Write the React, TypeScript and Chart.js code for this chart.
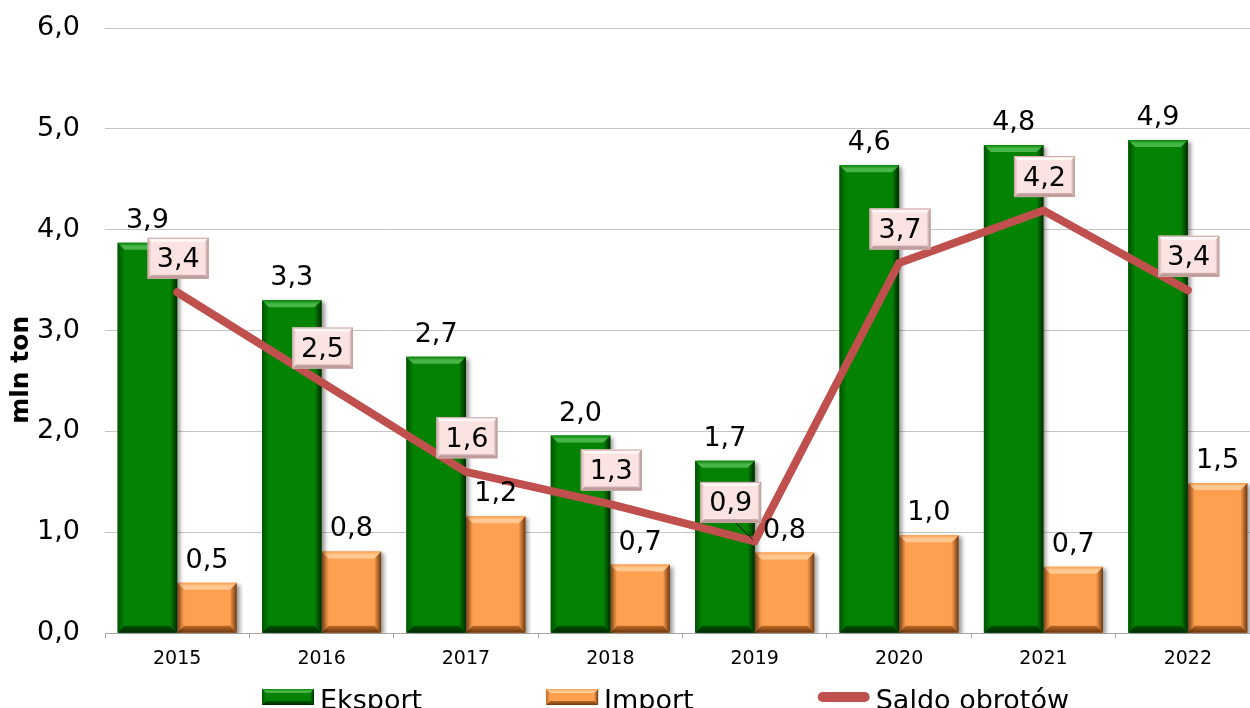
import React, { useEffect, useRef } from "react";
import { Chart, registerables } from "chart.js";

Chart.register(...registerables);

const years = ["2015", "2016", "2017", "2018", "2019", "2020", "2021", "2022"];
const eksport = [3.87, 3.3, 2.74, 1.96, 1.71, 4.64, 4.84, 4.89];
const importT = [0.5, 0.81, 1.16, 0.68, 0.8, 0.97, 0.66, 1.49];
const saldo = [3.38, 2.49, 1.6, 1.28, 0.91, 3.67, 4.19, 3.4];
const seriesNames = ["Eksport", "Import", "Saldo obrotów"];
const axisTitle = "mln ton";
const yMin = 0;
const yMax = 6;
const yStep = 1;

const FONT = '"DejaVu Sans", Verdana, sans-serif';
const fmt = (v: number) => v.toFixed(1).replace(".", ",");

type Pal = { main: string; light: string; dark: string; darker: string };
const GREEN: Pal = { main: "#038203", light: "#48b548", dark: "#005200", darker: "#002800" };
const ORANGE: Pal = { main: "#ff9f50", light: "#ffc991", dark: "#c06a25", darker: "#6a3810" };
const PINK: Pal = { main: "#fae3e1", light: "#fff8f7", dark: "#d2b0ae", darker: "#a88886" };
const LINE_COLOR = "#c0504d";

function poly(ctx: CanvasRenderingContext2D, pts: number[][], fill: any) {
  ctx.beginPath();
  ctx.moveTo(pts[0][0], pts[0][1]);
  for (let i = 1; i < pts.length; i++) ctx.lineTo(pts[i][0], pts[i][1]);
  ctx.closePath();
  ctx.fillStyle = fill;
  ctx.fill();
}

function bevelRect(
  ctx: CanvasRenderingContext2D,
  x0: number,
  y0: number,
  x1: number,
  y1: number,
  pal: Pal,
  bev: number,
  fillMain = true
) {
  const w = x1 - x0;
  const h = y1 - y0;
  const b = Math.max(1, Math.min(bev, w / 3, h / 3));
  if (fillMain) {
    ctx.fillStyle = pal.main;
    ctx.fillRect(x0, y0, w, h);
  }
  let g = ctx.createLinearGradient(x0, 0, x0 + b, 0);
  g.addColorStop(0, pal.dark);
  g.addColorStop(1, pal.main);
  poly(ctx, [[x0, y0], [x0 + b, y0 + b], [x0 + b, y1 - b], [x0, y1]], g);
  g = ctx.createLinearGradient(x1 - b, 0, x1, 0);
  g.addColorStop(0, pal.main);
  g.addColorStop(1, pal.darker);
  poly(ctx, [[x1, y0], [x1 - b, y0 + b], [x1 - b, y1 - b], [x1, y1]], g);
  g = ctx.createLinearGradient(0, y0, 0, y0 + b);
  g.addColorStop(0, pal.main);
  g.addColorStop(0.5, pal.light);
  g.addColorStop(1, pal.light);
  poly(ctx, [[x0, y0], [x1, y0], [x1 - b, y0 + b], [x0 + b, y0 + b]], g);
  g = ctx.createLinearGradient(0, y1 - b, 0, y1);
  g.addColorStop(0, pal.dark);
  g.addColorStop(1, pal.darker);
  poly(ctx, [[x0, y1], [x1, y1], [x1 - b, y1 - b], [x0 + b, y1 - b]], g);
}

// the plot area of the original runs a little past the right edge of the picture
const extendPlugin = {
  id: "extendRight",
  afterLayout(chart: any) {
    const ext = 10;
    const xs = chart.scales.x;
    xs.right += ext;
    xs.width += ext;
    xs.configure();
    chart.chartArea.right += ext;
    chart.chartArea.width += ext;
  },
};

const decorPlugin = {
  id: "decor",
  beforeDatasetDraw(chart: any, args: any) {
    if (args.meta.type === "bar") {
      const ctx = chart.ctx;
      ctx.save();
      ctx.shadowColor = "rgba(0,0,0,0.4)";
      ctx.shadowBlur = 4;
      ctx.shadowOffsetX = 3;
      ctx.shadowOffsetY = 2;
    }
  },
  afterDatasetDraw(chart: any, args: any) {
    if (args.meta.type !== "bar") return;
    const ctx = chart.ctx;
    ctx.restore();
    const pal = args.index === 1 ? GREEN : ORANGE;
    args.meta.data.forEach((el: any) => {
      const p = el.getProps(["x", "y", "base", "width"], true);
      const x0 = p.x - p.width / 2;
      const x1 = p.x + p.width / 2;
      bevelRect(ctx, x0, Math.min(p.y, p.base), x1, Math.max(p.y, p.base), pal, 7, false);
    });
  },
  afterDatasetsDraw(chart: any) {
    const ctx = chart.ctx;
    ctx.save();
    ctx.font = `27px ${FONT}`;
    ctx.fillStyle = "#000";
    ctx.textAlign = "center";
    ctx.textBaseline = "alphabetic";
    [1, 2].forEach((di) => {
      const meta = chart.getDatasetMeta(di);
      const vals = chart.data.datasets[di].data as number[];
      meta.data.forEach((el: any, i: number) => {
        const p = el.getProps(["x", "y"], true);
        ctx.fillText(fmt(vals[i]), p.x, p.y - 15);
      });
    });
    // saldo label boxes
    const lmeta = chart.getDatasetMeta(0);
    const lvals = chart.data.datasets[0].data as number[];
    const shifts: Record<number, number[]> = { 4: [-25, -5] };
    lmeta.data.forEach((el: any, i: number) => {
      const p = el.getProps(["x", "y"], true);
      const s = shifts[i] || [0, 0];
      const txt = fmt(lvals[i]);
      const tw = ctx.measureText(txt).width;
      const bw = tw + 18;
      const bh = 41;
      const cx = p.x + 1 + s[0];
      const cy = p.y - 34 + s[1];
      if (s[0] !== 0) {
        ctx.strokeStyle = "#000";
        ctx.lineWidth = 1;
        ctx.beginPath();
        ctx.moveTo(cx + 5, cy + bh / 2);
        ctx.lineTo(p.x - 2, p.y - 2);
        ctx.stroke();
      }
      bevelRect(ctx, cx - bw / 2, cy - bh / 2, cx + bw / 2, cy + bh / 2, PINK, 4, true);
      ctx.strokeStyle = "#c9a9a7";
      ctx.lineWidth = 1;
      ctx.strokeRect(cx - bw / 2 + 0.5, cy - bh / 2 + 0.5, bw - 1, bh - 1);
      ctx.fillStyle = "#000";
      ctx.textBaseline = "middle";
      ctx.fillText(txt, cx, cy + 2);
      ctx.textBaseline = "alphabetic";
    });
    ctx.restore();
  },
  afterDraw(chart: any) {
    const ctx = chart.ctx;
    ctx.save();
    ctx.font = `27px ${FONT}`;
    const boxW = 52;
    const boxH = 16;
    const tg = 6;
    const gap = 124;
    const ws = seriesNames.map((n) => boxW + tg + ctx.measureText(n).width);
    const total = ws.reduce((a, b) => a + b, 0) + gap * (ws.length - 1);
    const ca = chart.chartArea;
    let x = (ca.left + ca.right) / 2 - 17 - total / 2;
    const cy = chart.height - 11;
    seriesNames.forEach((n, i) => {
      if (i === 2) {
        ctx.strokeStyle = LINE_COLOR;
        ctx.lineWidth = 10;
        ctx.lineCap = "round";
        ctx.beginPath();
        ctx.moveTo(x + 5, cy);
        ctx.lineTo(x + boxW - 5, cy);
        ctx.stroke();
      } else {
        bevelRect(ctx, x, cy - boxH / 2, x + boxW, cy + boxH / 2, i === 0 ? GREEN : ORANGE, 4, true);
      }
      ctx.fillStyle = "#000";
      ctx.textAlign = "left";
      ctx.textBaseline = "alphabetic";
      ctx.fillText(n, x + boxW + tg, chart.height + 1);
      x += ws[i] + gap;
    });
    ctx.restore();
  },
};

export default function App() {
  const ref = useRef<HTMLCanvasElement | null>(null);
  useEffect(() => {
    document.body.style.margin = "0";
    if (!ref.current) return;
    const chart = new Chart(ref.current, {
      type: "bar",
      data: {
        labels: years,
        datasets: [
          {
            type: "line",
            label: seriesNames[2],
            data: saldo,
            borderColor: LINE_COLOR,
            backgroundColor: LINE_COLOR,
            borderWidth: 8,
            pointRadius: 0,
            borderCapStyle: "round",
            borderJoinStyle: "round",
            tension: 0,
            order: 0,
          } as any,
          {
            type: "bar",
            label: seriesNames[0],
            data: eksport,
            backgroundColor: GREEN.main,
            borderWidth: 0,
            categoryPercentage: 0.825,
            barPercentage: 1,
            order: 1,
          },
          {
            type: "bar",
            label: seriesNames[1],
            data: importT,
            backgroundColor: ORANGE.main,
            borderWidth: 0,
            categoryPercentage: 0.825,
            barPercentage: 1,
            order: 1,
          },
        ],
      },
      options: {
        responsive: false,
        animation: false,
        layout: { padding: { top: 28, left: 2, right: 0, bottom: 29 } },
        plugins: {
          legend: { display: false },
          tooltip: { enabled: false },
        },
        scales: {
          x: {
            grid: { drawOnChartArea: false, drawTicks: true, tickLength: 5, color: "#a6a6a6" },
            border: { color: "#a6a6a6" },
            ticks: { color: "#000", font: { family: FONT, size: 19 }, padding: 9 },
          },
          y: {
            min: yMin,
            max: yMax,
            afterFit: (scale: any) => {
              scale.width = 103;
              scale.paddingTop = 16;
              scale.paddingBottom = 16;
            },
            ticks: {
              stepSize: yStep,
              color: "#000",
              font: { family: FONT, size: 27 },
              padding: 25,
              callback: (v: any) => fmt(Number(v)),
            },
            grid: { color: "#c4c4c4", lineWidth: 1, drawTicks: false },
            border: { display: false },
            title: {
              display: true,
              text: axisTitle + "         ",
              color: "#000",
              font: { family: FONT, size: 25, weight: "bold" },
              padding: { top: 4, bottom: 4 },
            },
          },
        },
      },
      plugins: [extendPlugin, decorPlugin],
    });
    return () => chart.destroy();
  }, []);
  return (
    <div style={{ width: 1250, height: 708 }}>
      <canvas ref={ref} width={1250} height={708} />
    </div>
  );
}
